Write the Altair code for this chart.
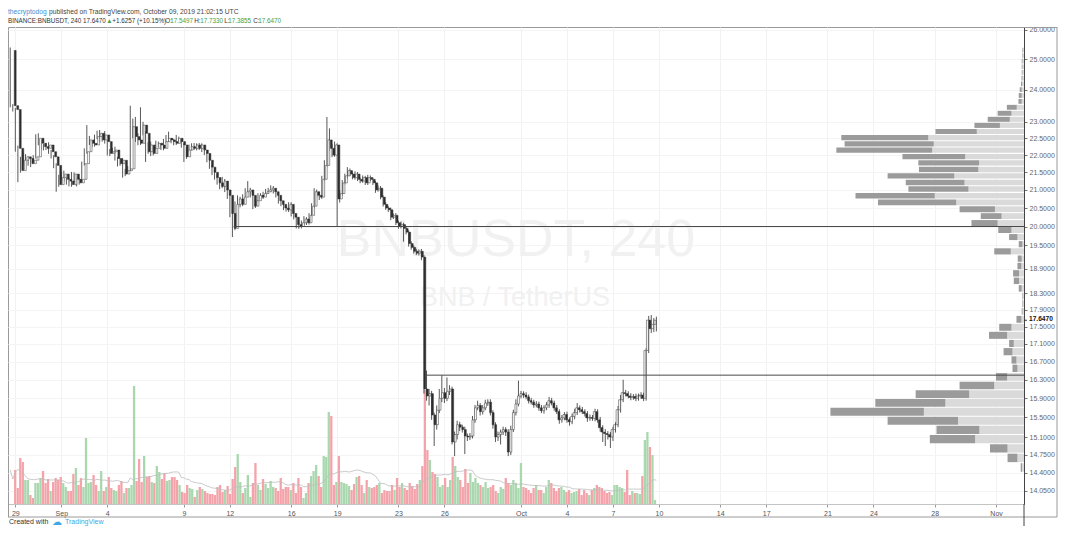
import altair as alt
import pandas as pd

# ---------------- values ----------------
first_bar_time = "2019-08-28 16:00"   # first 4h candle (UTC)
first_open = 25.30

# closes: one row per day (6 four-hour candles); first row = last two candles of Aug 28
close_rows = [
    [23.50, 23.38],
    [22.20, 21.55, 21.85, 21.95, 21.90, 21.75],  # Aug 29
    [21.85, 21.95, 22.50, 22.35, 22.25, 22.20],  # Aug 30
    [22.30, 22.10, 21.95, 21.70, 21.15, 21.35],  # Aug 31
    [21.45, 21.30, 21.25, 21.15, 21.45, 21.30],  # Sep 1
    [21.20, 21.30, 21.75, 22.10, 22.45, 22.35],  # Sep 2
    [22.30, 22.55, 22.65, 22.45, 22.60, 22.40],  # Sep 3
    [22.05, 22.10, 22.15, 21.90, 21.75, 21.85],  # Sep 4
    [21.45, 21.55, 21.60, 22.85, 22.55, 22.45],  # Sep 5
    [22.35, 22.90, 22.65, 22.10, 22.30, 22.05],  # Sep 6
    [22.20, 22.35, 22.30, 22.20, 22.40, 22.50],  # Sep 7
    [22.45, 22.40, 22.35, 22.50, 22.40, 22.30],  # Sep 8
    [21.95, 22.15, 22.25, 22.20, 22.30, 22.20],  # Sep 9
    [22.30, 22.15, 22.05, 21.85, 21.65, 21.50],  # Sep 10
    [21.35, 21.20, 21.10, 21.25, 21.00, 20.85],  # Sep 11
    [20.35, 19.95, 20.60, 20.75, 20.60, 20.80],  # Sep 12
    [20.95, 21.00, 20.85, 20.55, 20.70, 20.85],  # Sep 13
    [20.80, 20.90, 20.95, 21.00, 21.05, 20.95],  # Sep 14
    [20.85, 20.70, 20.60, 20.50, 20.45, 20.60],  # Sep 15
    [20.35, 20.25, 20.05, 20.00, 20.10, 20.20],  # Sep 16
    [20.10, 20.30, 20.55, 20.95, 20.85, 20.80],  # Sep 17
    [21.30, 21.70, 22.45, 22.20, 22.00, 22.30],  # Sep 18
    [20.75, 20.90, 21.20, 21.40, 21.55, 21.45],  # Sep 19
    [21.35, 21.45, 21.30, 21.25, 21.35, 21.20],  # Sep 20
    [21.35, 21.30, 21.20, 21.00, 21.05, 20.80],  # Sep 21
    [20.60, 20.50, 20.45, 20.25, 20.30, 20.10],  # Sep 22
    [20.00, 20.05, 19.95, 19.85, 19.55, 19.45],  # Sep 23
    [19.35, 19.30, 19.35, 19.20, 16.10, 15.95],  # Sep 24
    [16.00, 15.55, 15.35, 15.65, 15.90, 16.02],  # Sep 25
    [15.90, 16.05, 16.10, 15.00, 15.15, 15.35],  # Sep 26
    [15.30, 15.25, 15.12, 15.10, 15.12, 15.45],  # Sep 27
    [15.70, 15.75, 15.62, 15.70, 15.80, 15.82],  # Sep 28
    [15.60, 15.35, 15.10, 15.15, 15.20, 15.25],  # Sep 29
    [15.20, 14.80, 15.25, 15.60, 15.78, 15.95],  # Sep 30
    [16.00, 15.97, 15.93, 15.85, 15.82, 15.76],  # Oct 1
    [15.78, 15.70, 15.64, 15.70, 15.76, 15.85],  # Oct 2
    [15.80, 15.70, 15.62, 15.45, 15.49, 15.56],  # Oct 3
    [15.45, 15.41, 15.52, 15.60, 15.70, 15.66],  # Oct 4
    [15.62, 15.58, 15.49, 15.50, 15.48, 15.62],  # Oct 5
    [15.45, 15.29, 15.20, 15.17, 15.15, 15.10],  # Oct 6
    [15.25, 15.35, 15.66, 15.87, 16.02, 16.00],  # Oct 7
    [15.95, 15.92, 15.94, 15.90, 15.95, 15.97],  # Oct 8
    [15.90, 16.95, 17.65, 17.45, 17.5497, 17.647],  # Oct 9
]

# upper wick above the body top
wick_up_rows = [
    [0.10, 0.05],
    [0.05, 0.08, 0.10, 0.12, 0.08, 0.06],
    [0.06, 0.05, 0.12, 0.15, 0.06, 0.08],
    [0.06, 0.08, 0.05, 0.05, 0.06, 0.08],
    [0.06, 0.10, 0.05, 0.08, 0.06, 0.05],
    [0.06, 0.05, 0.06, 0.10, 0.45, 0.12],
    [0.08, 0.06, 0.08, 0.10, 0.05, 0.12],
    [0.05, 0.08, 0.06, 0.10, 0.05, 0.06],
    [0.06, 0.05, 0.08, 0.65, 0.25, 0.60],
    [0.20, 0.55, 0.10, 0.06, 0.08, 0.10],
    [0.06, 0.08, 0.05, 0.06, 0.08, 0.10],
    [0.20, 0.06, 0.08, 0.10, 0.05, 0.06],
    [0.05, 0.08, 0.06, 0.10, 0.06, 0.05],
    [0.06, 0.05, 0.06, 0.05, 0.08, 0.06],
    [0.06, 0.08, 0.10, 0.12, 0.06, 0.05],
    [0.06, 0.05, 0.08, 0.10, 0.06, 0.08],
    [0.10, 0.25, 0.06, 0.08, 0.05, 0.06],
    [0.06, 0.05, 0.08, 0.06, 0.08, 0.06],
    [0.05, 0.06, 0.05, 0.08, 0.05, 0.06],
    [0.06, 0.05, 0.06, 0.05, 0.06, 0.08],
    [0.05, 0.06, 0.08, 0.10, 0.06, 0.10],
    [0.10, 0.15, 0.70, 0.35, 0.12, 0.10],
    [0.05, 0.10, 0.08, 0.06, 0.10, 0.06],
    [0.05, 0.08, 0.06, 0.05, 0.06, 0.05],
    [0.08, 0.06, 0.05, 0.05, 0.08, 0.06],
    [0.05, 0.06, 0.05, 0.06, 0.05, 0.06],
    [0.06, 0.08, 0.05, 0.06, 0.05, 0.06],
    [0.05, 0.06, 0.05, 0.06, 0.05, 0.40],
    [0.10, 0.06, 0.05, 0.10, 0.20, 0.38],
    [0.10, 0.30, 0.08, 0.05, 0.06, 0.08],
    [0.06, 0.05, 0.06, 0.05, 0.06, 0.08],
    [0.06, 0.10, 0.05, 0.06, 0.07, 0.06],
    [0.06, 0.05, 0.05, 0.06, 0.05, 0.06],
    [0.05, 0.06, 0.08, 0.06, 0.10, 0.33],
    [0.06, 0.05, 0.06, 0.05, 0.06, 0.05],
    [0.06, 0.05, 0.06, 0.05, 0.06, 0.08],
    [0.06, 0.05, 0.06, 0.05, 0.06, 0.05],
    [0.06, 0.05, 0.06, 0.08, 0.10, 0.05],
    [0.06, 0.05, 0.05, 0.06, 0.05, 0.06],
    [0.05, 0.06, 0.05, 0.06, 0.05, 0.05],
    [0.06, 0.05, 0.08, 0.10, 0.28, 0.06],
    [0.05, 0.06, 0.05, 0.06, 0.05, 0.06],
    [0.05, 0.05, 0.10, 0.12, 0.15, 0.086],
]

# lower wick below the body bottom
wick_dn_rows = [
    [0.05, 0.06],
    [0.10, 0.33, 0.06, 0.10, 0.08, 0.06],
    [0.10, 0.06, 0.05, 0.06, 0.08, 0.06],
    [0.05, 0.06, 0.05, 0.08, 0.20, 0.06],
    [0.08, 0.06, 0.10, 0.05, 0.06, 0.08],
    [0.10, 0.05, 0.06, 0.05, 0.06, 0.05],
    [0.06, 0.05, 0.08, 0.06, 0.05, 0.06],
    [0.06, 0.08, 0.05, 0.06, 0.08, 0.06],
    [0.10, 0.06, 0.05, 0.06, 0.05, 0.06],
    [0.06, 0.05, 0.06, 0.30, 0.06, 0.08],
    [0.06, 0.05, 0.06, 0.05, 0.06, 0.05],
    [0.06, 0.05, 0.06, 0.05, 0.06, 0.08],
    [0.15, 0.06, 0.05, 0.06, 0.05, 0.06],
    [0.05, 0.06, 0.05, 0.06, 0.05, 0.08],
    [0.06, 0.05, 0.08, 0.05, 0.06, 0.10],
    [0.10, 0.23, 0.05, 0.06, 0.08, 0.05],
    [0.06, 0.05, 0.06, 0.08, 0.05, 0.06],
    [0.06, 0.05, 0.06, 0.05, 0.06, 0.05],
    [0.06, 0.08, 0.05, 0.06, 0.05, 0.06],
    [0.08, 0.06, 0.10, 0.06, 0.05, 0.06],
    [0.06, 0.05, 0.06, 0.05, 0.06, 0.08],
    [0.05, 0.06, 0.05, 0.08, 0.06, 0.05],
    [0.75, 0.10, 0.06, 0.05, 0.08, 0.06],
    [0.05, 0.06, 0.05, 0.06, 0.05, 0.06],
    [0.06, 0.05, 0.06, 0.08, 0.05, 0.06],
    [0.06, 0.05, 0.06, 0.08, 0.05, 0.06],
    [0.06, 0.05, 0.35, 0.06, 0.08, 0.06],
    [0.06, 0.05, 0.06, 0.08, 0.10, 0.10],
    [0.20, 0.10, 0.43, 0.10, 0.06, 0.08],
    [0.10, 0.06, 0.08, 0.05, 0.28, 0.10],
    [0.08, 0.06, 0.36, 0.08, 0.06, 0.05],
    [0.06, 0.05, 0.08, 0.06, 0.05, 0.06],
    [0.06, 0.08, 0.10, 0.08, 0.20, 0.06],
    [0.08, 0.08, 0.06, 0.05, 0.06, 0.05],
    [0.05, 0.06, 0.05, 0.06, 0.05, 0.06],
    [0.05, 0.06, 0.05, 0.06, 0.05, 0.06],
    [0.05, 0.06, 0.05, 0.08, 0.06, 0.05],
    [0.06, 0.08, 0.05, 0.06, 0.05, 0.06],
    [0.05, 0.06, 0.08, 0.06, 0.05, 0.06],
    [0.06, 0.08, 0.20, 0.25, 0.10, 0.22],
    [0.08, 0.06, 0.05, 0.06, 0.05, 0.06],
    [0.05, 0.06, 0.05, 0.06, 0.05, 0.06],
    [0.06, 0.05, 0.06, 0.10, 0.08, 0.1642],
]

# volume per candle (relative units)
volume_rows = [
    [34, 16],
    [46, 42, 24, 24, 9, 6],
    [21, 21, 26, 33, 21, 25],
    [13, 22, 26, 24, 27, 21],
    [17, 13, 13, 30, 36, 19],
    [26, 17, 66, 21, 22, 29],
    [19, 13, 33, 13, 17, 27],
    [16, 14, 13, 19, 23, 11],
    [16, 16, 19, 118, 23, 45],
    [22, 48, 27, 28, 22, 21],
    [38, 32, 25, 31, 23, 24],
    [27, 27, 24, 19, 12, 11],
    [19, 16, 15, 7, 14, 17],
    [15, 13, 11, 10, 10, 9],
    [17, 19, 12, 14, 18, 10],
    [25, 37, 50, 22, 11, 16],
    [29, 7, 21, 41, 19, 14],
    [25, 20, 16, 23, 17, 16],
    [13, 26, 15, 17, 17, 14],
    [21, 11, 26, 17, 6, 11],
    [21, 28, 33, 39, 28, 17],
    [48, 47, 92, 88, 19, 22],
    [48, 22, 21, 20, 18, 14],
    [20, 27, 28, 19, 11, 24],
    [17, 16, 17, 19, 21, 11],
    [14, 13, 13, 19, 14, 26],
    [17, 21, 16, 14, 21, 18],
    [15, 20, 24, 38, 114, 54],
    [44, 32, 30, 27, 17, 19],
    [26, 17, 24, 47, 38, 27],
    [24, 17, 35, 21, 31, 22],
    [26, 21, 19, 17, 22, 16],
    [17, 19, 13, 11, 17, 15],
    [26, 21, 19, 24, 21, 16],
    [41, 17, 16, 14, 11, 16],
    [19, 14, 14, 11, 17, 24],
    [21, 16, 13, 16, 17, 14],
    [12, 14, 11, 12, 13, 15],
    [9, 14, 11, 9, 14, 16],
    [19, 17, 16, 13, 11, 12],
    [9, 19, 19, 17, 16, 12],
    [34, 9, 13, 11, 11, 10],
    [28, 64, 72, 57, 49, 4],
]

# drawn horizontal levels
level_prices = [20.00, 16.40]
level_starts = ["2019-09-12T06:00:00Z", "2019-09-24T18:00:00Z"]

# visible-range volume profile, rows from bottom to top
profile_first_row_low = 14.405
profile_row_step = 0.1865
profile_dark = [1.3, 10.0, 17.7, 45.7, 43.3, 71.0, 94.3, 70.7, 54.0, 35.0,
                11.3, 5.0, 5.0, 9.0, 4.7, 18.3, 12.4, 5.0, 0.8, 0.5,
                0.5, 3.0, 5.3, 6.0, 4.0, 4.0, 16.7, 3.7, 8.4, 13.4,
                26.4, 21.0, 35.7, 79.0, 80.0, 60.6, 59.3, 67.3, 60.0, 61.3,
                63.3, 96.7, 90.0, 87.7, 41.7, 25.7, 22.3, 14.0, 10.0, 3.3,
                3.0, 2.0, 1.2, 1.0, 0.8, 0.8, 0.8, 0.5, 0.5]
profile_light = [2.0, 6.6, 16.6, 49.3, 45.0, 66.6, 101.0, 79.3, 55.3, 30.0,
                 17.0, 6.6, 7.6, 11.6, 10.3, 17.0, 12.6, 2.6, 1.5, 1.5,
                 1.5, 2.3, 5.0, 5.0, 2.6, 2.3, 13.3, 1.6, 6.6, 12.6,
                 26.6, 22.6, 29.3, 68.3, 90.0, 56.0, 60.0, 70.3, 46.0, 45.3,
                 59.3, 92.6, 91.0, 96.6, 47.6, 24.3, 14.3, 12.6, 7.3, 2.3,
                 2.3, 2.3, 1.8, 1.5, 1.5, 1.5, 1.5, 1.5, 1.5]

price_ticks = [14.05, 14.40, 14.75, 15.10, 15.50, 15.90, 16.30, 16.70, 17.10, 17.50,
               17.90, 18.30, 18.90, 19.50, 20.00, 20.50, 21.00, 21.50, 22.00,
               22.50, 23.00, 24.00, 25.00, 26.00]
last_price = 17.647
date_ticks = [(2019, 8, 29), (2019, 9, 1), (2019, 9, 4), (2019, 9, 9), (2019, 9, 12),
              (2019, 9, 16), (2019, 9, 19), (2019, 9, 23), (2019, 9, 26), (2019, 10, 1),
              (2019, 10, 4), (2019, 10, 7), (2019, 10, 10), (2019, 10, 14), (2019, 10, 17),
              (2019, 10, 21), (2019, 10, 24), (2019, 10, 28), (2019, 11, 1)]

header_user = "thecryptodog"
header_rest = "published on TradingView.com, October 09, 2019 21:02:15 UTC"
header2 = [("BINANCE:BNBUSDT, 240 17.6470", "#333333"), ("▲", "#43a047"),
           ("+1.6257 (+10.15%)", "#333333"), ("O:", "#333333"), ("17.5497", "#43a047"),
           ("H:", "#333333"), ("17.7330", "#43a047"), ("L:", "#333333"),
           ("17.3855", "#43a047"), ("C:", "#333333"), ("17.6470", "#43a047")]

# ---------------- build tables ----------------
closes = [v for r in close_rows for v in r]
wu = [v for r in wick_up_rows for v in r]
wd = [v for r in wick_dn_rows for v in r]
vols = [v for r in volume_rows for v in r]
n = len(closes)
assert len(wu) == n and len(wd) == n and len(vols) == n, (n, len(wu), len(wd), len(vols))

times = pd.date_range(first_bar_time, periods=n, freq="4h")
opens = [first_open] + closes[:-1]
candles = pd.DataFrame({
    "t": [t.strftime("%Y-%m-%dT%H:%M:%SZ") for t in times],
    "o": opens,
    "c": closes,
    "h": [max(o, c) + u for o, c, u in zip(opens, closes, wu)],
    "l": [min(o, c) - d for o, c, d in zip(opens, closes, wd)],
    "v": vols,
    "dir": ["up" if c >= o else "down" for o, c in zip(opens, closes)],
})

prof_rows = []
for j, (dk, lt) in enumerate(zip(profile_dark, profile_light)):
    lo = profile_first_row_low + j * profile_row_step
    hi = lo + profile_row_step
    lo_i, hi_i = lo * 1.0007, hi / 1.0007
    prof_rows.append({"lo": lo_i, "hi": hi_i, "part": "light", "x0": 0.0, "x1": lt})
    prof_rows.append({"lo": lo_i, "hi": hi_i, "part": "dark", "x0": lt, "x1": lt + dk})
profile = pd.DataFrame(prof_rows)

levels = pd.DataFrame({"start": level_starts, "price": level_prices})
last_df = pd.DataFrame({"price": [last_price], "label": [f"{last_price:.4f}"]})
dummy = pd.DataFrame({"a": [0]})

# ---------------- scales / layout ----------------
W, H = 1016, 477
FONT = "Liberation Sans"
t_start = alt.DateTime(year=2019, month=8, date=28, hours=12, minutes=31, utc=True)
t_end = alt.DateTime(year=2019, month=11, date=2, hours=19, minutes=47, utc=True)
time_scale = alt.Scale(type="utc", domain=[t_start, t_end])
price_scale = alt.Scale(type="log", domain=[13.808, 26.104], nice=False)

x_axis = alt.Axis(
    values=[alt.DateTime(year=y, month=m, date=d, utc=True) for y, m, d in date_ticks],
    labelExpr="utcdate(datum.value) == 1 ? utcFormat(datum.value, '%b') : utcFormat(datum.value, '%-d')",
    title=None, grid=True, gridColor="#f2f2f2", gridWidth=1,
    tickColor="#9a9a9a", tickSize=3, domainColor="#c4c4c4",
    labelColor="#555555", labelFontSize=7, labelFont=FONT, labelPadding=2,
    labelFlush=False, labelOverlap=False,
)
y_axis = alt.Axis(
    orient="right", values=price_ticks, format=".4f", title=None,
    grid=True, gridColor="#f4f4f4", tickColor="#777777", tickSize=3,
    domainColor="#444444", labelFontSize=7.0, labelFont=FONT, labelPadding=2,
    labelOverlap=False, labelColor="#666666",
)

# watermark
wm1 = alt.Chart(dummy).mark_text(text="BNBUSDT, 240", font=FONT, fontSize=52,
                                 color="#f1f1f1", align="center", baseline="middle"
                                 ).encode(x=alt.value(508), y=alt.value(213))
wm2 = alt.Chart(dummy).mark_text(text="BNB / TetherUS", font=FONT, fontSize=27,
                                 color="#f1f1f1", align="center", baseline="middle"
                                 ).encode(x=alt.value(507), y=alt.value(271))

# volume bars + MA
vol = alt.Chart(candles).mark_bar(size=2.3).encode(
    x=alt.X("t:T", scale=time_scale, axis=None),
    y=alt.Y("v:Q", scale=alt.Scale(domain=[0, H]), axis=None),
    color=alt.Color("dir:N", scale=alt.Scale(domain=["up", "down"], range=["#a9d8ae", "#f5a3aa"]),
                    legend=None),
)
vol_ma = alt.Chart(candles).transform_window(
    ma="mean(v)", frame=[-19, 0], sort=[alt.SortField(field="t", order="ascending")]
).mark_line(color="#bcbcbc", strokeWidth=0.8).encode(
    x=alt.X("t:T", scale=time_scale, axis=None),
    y=alt.Y("ma:Q", scale=alt.Scale(domain=[0, H]), axis=None),
)

# volume profile
prof = alt.Chart(profile).mark_bar().encode(
    x=alt.X("x0:Q", scale=alt.Scale(domain=[0, 1025], reverse=True), axis=None),
    x2="x1:Q",
    y=alt.Y("lo:Q", scale=price_scale, axis=None),
    y2="hi:Q",
    color=alt.Color("part:N", scale=alt.Scale(domain=["light", "dark"], range=["#dadada", "#9b9b9b"]),
                    legend=None),
)

# candles
wicks = alt.Chart(candles).mark_rule(color="#2e2e2e", strokeWidth=0.8).encode(
    x=alt.X("t:T", scale=time_scale, axis=x_axis),
    y=alt.Y("l:Q", scale=price_scale, axis=y_axis),
    y2="h:Q",
)
bodies = alt.Chart(candles).mark_bar(size=1.9, stroke="#2e2e2e", strokeWidth=0.5).encode(
    x=alt.X("t:T", scale=time_scale, axis=None),
    y=alt.Y("o:Q", scale=price_scale, axis=None),
    y2="c:Q",
    fill=alt.Fill("dir:N", scale=alt.Scale(domain=["up", "down"], range=["#ffffff", "#2e2e2e"]),
                  legend=None),
)

# horizontal levels
lvl = alt.Chart(levels).mark_rule(color="#4a4a4a", strokeWidth=1).encode(
    x=alt.X("start:T", scale=time_scale, axis=None),
    x2=alt.value(W),
    y=alt.Y("price:Q", scale=price_scale, axis=None),
)

# last price marker on the price axis
last_tick = alt.Chart(last_df).mark_rule(color="#333333", strokeWidth=1).encode(
    x=alt.value(W), x2=alt.value(W + 3),
    y=alt.Y("price:Q", scale=price_scale, axis=None),
)
last_lbl = alt.Chart(last_df).mark_text(font=FONT, fontSize=6.6, color="#111111",
                                        fontWeight="bold", align="left", baseline="middle", dy=-1.5
                                        ).encode(
    x=alt.value(W + 5),
    y=alt.Y("price:Q", scale=price_scale, axis=None),
    text="label:N",
)

# frame pieces
def hrule(x1, x2, y, color):
    return alt.Chart(dummy).mark_rule(color=color, strokeWidth=1).encode(
        x=alt.value(x1), x2=alt.value(x2), y=alt.value(y))

def vrule(x, y1, y2, color):
    return alt.Chart(dummy).mark_rule(color=color, strokeWidth=1).encode(
        x=alt.value(x), y=alt.value(y1), y2=alt.value(y2))

FR = "#9a9a9a"
frame = [
    hrule(W, W + 33, 0.5, FR),
    vrule(W + 33, 0, H + 13, FR),
    hrule(0, W + 33, H + 13, FR),
    vrule(0.5, H, H + 13, FR),
    vrule(W, H, H + 22, "#444444"),
]

# header
hdr = [
    alt.Chart(dummy).mark_text(text=header_user, font=FONT, fontSize=6.7, color="#3d8fd1",
                               align="left", baseline="middle").encode(x=alt.value(0), y=alt.value(-15)),
    alt.Chart(dummy).mark_text(text=header_rest, font=FONT, fontSize=6.7, color="#444444",
                               align="left", baseline="middle").encode(x=alt.value(41), y=alt.value(-15)),
]
seg_x = [0, 98.3, 104.3, 157.3, 162.3, 186.3, 192.3, 216.3, 220.3, 245.3, 250.3]
for (txt, col), sx in zip(header2, seg_x):
    hdr.append(alt.Chart(dummy).mark_text(text=txt, font=FONT, fontSize=6.3, color=col,
                                          align="left", baseline="middle"
                                          ).encode(x=alt.value(sx), y=alt.value(-6)))

footer = [
    alt.Chart(dummy).mark_text(text="Created with", font=FONT, fontSize=7, color="#333333",
                               align="left", baseline="middle").encode(x=alt.value(1), y=alt.value(H + 18)),
    alt.Chart(dummy).mark_text(text="☁", font="DejaVu Sans", fontSize=10, color="#3ea8e6",
                               align="left", baseline="middle").encode(x=alt.value(44), y=alt.value(H + 17.5)),
    alt.Chart(dummy).mark_text(text="TradingView", font=FONT, fontSize=7, color="#3ea8e6",
                               align="left", baseline="middle").encode(x=alt.value(57), y=alt.value(H + 18)),
]

chart = alt.layer(
    wm1, wm2, vol, vol_ma, prof, wicks, bodies, lvl, last_tick, last_lbl, *frame, *hdr, *footer
).resolve_scale(
    x="independent", y="independent", color="independent", fill="independent"
).properties(
    width=W, height=H,
    padding={"left": 0, "top": 19, "right": 34, "bottom": 22},
    autosize=alt.AutoSizeParams(type="none"),
    background="white",
).configure_view(stroke=FR, strokeWidth=1)

chart.save("out.html", embed_options={"renderer": "svg", "actions": False})
